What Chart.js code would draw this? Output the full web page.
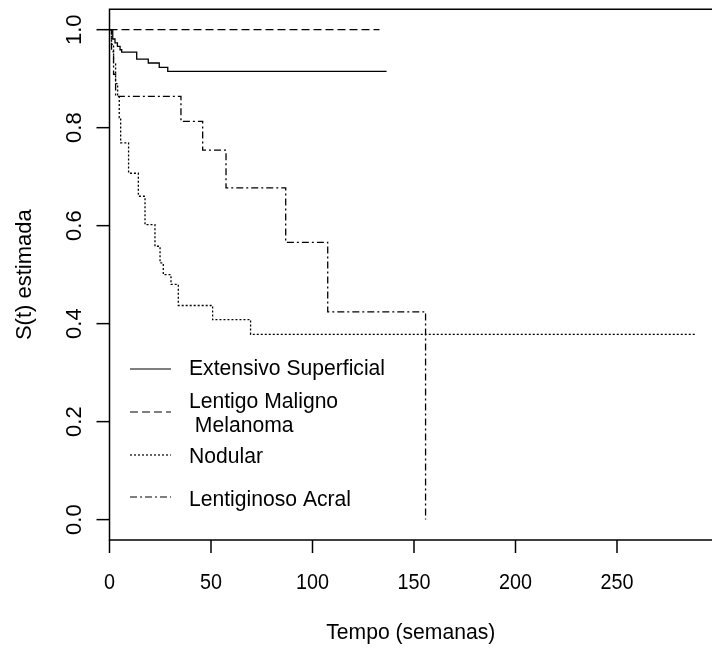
<!DOCTYPE html>
<html>
<head>
<meta charset="utf-8">
<script src="https://cdn.jsdelivr.net/npm/chart.js@4/dist/chart.umd.min.js"></script>
<style>
  html, body { margin: 0; padding: 0; background: #fff; }
  canvas { display: block; }
</style>
</head>
<body>
<canvas id="survChart" width="712" height="648"></canvas>
<script>
// curvas de Kaplan-Meier (tempo em semanas, S(t))
const esTime = [0, 1.6, 2.7, 3.9, 5.2, 6, 13.4, 19.1, 24.5, 28.7, 136.5]
const esSurv = [1, 0.981, 0.973, 0.966, 0.959, 0.954, 0.940, 0.932, 0.923, 0.915, 0.915]

const lmmTime = [0, 133]
const lmmSurv = [1, 1]

const nodTime = [0, 1, 2, 3, 4, 4.8, 5.5, 9.4, 14.2, 17.5, 22.4, 24.9, 26.5, 30.3, 33.9, 50.8, 69.5, 289]
const nodSurv = [1, 0.97, 0.93, 0.89, 0.865, 0.82, 0.769, 0.707, 0.660, 0.602, 0.558, 0.524, 0.500, 0.480, 0.437, 0.408, 0.378, 0.378]

const acTime = [0, 1, 2, 3, 35.2, 45.9, 57.4, 86.8, 107.5, 155.7]
const acSurv = [1, 0.955, 0.909, 0.864, 0.813, 0.754, 0.677, 0.566, 0.424, 0]

const xTicks = [0, 50, 100, 150, 200, 250]
const yTicks = [0, 0.2, 0.4, 0.6, 0.8, 1.0]
const yTickLabels = ["0.0", "0.2", "0.4", "0.6", "0.8", "1.0"]

const seriesNames = ["Extensivo Superficial", "Lentigo Maligno\n Melanoma", "Nodular", "Lentiginoso Acral"]
const dashes = [[], [8, 4], [2, 2], [7, 3, 2, 3]]

const toPoints = (t, s) => t.map((v, i) => ({ x: v, y: s[i] }))

const FONT = '22px "Liberation Sans", Arial, sans-serif'

// eixos, caixa e legenda no estilo do R
const rAxes = {
  id: "rAxes",
  beforeDraw(chart) {
    const c = chart.ctx
    c.save()
    c.fillStyle = "#fff"
    c.fillRect(0, 0, chart.width, chart.height)
    c.restore()
  },
  afterDraw(chart) {
    const c = chart.ctx
    const a = chart.chartArea
    const xs = chart.scales.x
    const ys = chart.scales.y
    c.save()
    c.strokeStyle = "#000"
    c.fillStyle = "#000"
    c.lineWidth = 1.5
    c.setLineDash([])

    // caixa (top, left, bottom)
    c.beginPath()
    c.moveTo(a.right + 2, a.top)
    c.lineTo(a.left, a.top)
    c.lineTo(a.left, a.bottom)
    c.lineTo(a.right + 2, a.bottom)
    c.stroke()

    c.font = FONT
    c.textAlign = "center"
    c.textBaseline = "middle"

    // eixo x
    xTicks.forEach(v => {
      const px = xs.getPixelForValue(v)
      c.beginPath()
      c.moveTo(px, a.bottom)
      c.lineTo(px, a.bottom + 13)
      c.stroke()
      c.save()
      c.translate(px, a.bottom + 43)
      c.scale(0.9, 1)
      c.fillText(String(v), 0, 0)
      c.restore()
    })

    // eixo y
    yTicks.forEach((v, i) => {
      const py = ys.getPixelForValue(v)
      c.beginPath()
      c.moveTo(a.left, py)
      c.lineTo(a.left - 13, py)
      c.stroke()
      c.save()
      c.translate(a.left - 35, py)
      c.rotate(-Math.PI / 2)
      c.fillText(yTickLabels[i], 0, 0)
      c.restore()
    })

    // títulos
    c.save()
    c.translate((a.left + a.right) / 2, a.bottom + 93)
    c.scale(0.96, 1)
    c.fillText("Tempo (semanas)", 0, 0)
    c.restore()

    c.save()
    c.translate(25, (a.top + a.bottom) / 2)
    c.rotate(-Math.PI / 2)
    c.fillText("S(t) estimada", 0, 0)
    c.restore()

    // legenda
    const lineY = [369, 412, 455, 497]
    const textY = [[369], [402, 426], [457], [500]]
    c.textAlign = "left"
    c.lineWidth = 1.2
    seriesNames.forEach((name, i) => {
      c.setLineDash(dashes[i])
      c.beginPath()
      c.moveTo(130, lineY[i])
      c.lineTo(171, lineY[i])
      c.stroke()
      c.setLineDash([])
      name.split("\n").forEach((part, j) => {
        c.save()
        c.translate(189, textY[i][j])
        c.scale(0.96, 1)
        c.fillText(part, 0, 0)
        c.restore()
      })
    })
    c.restore()
  }
}

const ctx = document.getElementById("survChart")

new Chart(ctx, {
  type: "line",
  data: {
    datasets: [
      { label: seriesNames[0], data: toPoints(esTime, esSurv), borderDash: dashes[0] },
      { label: seriesNames[1], data: toPoints(lmmTime, lmmSurv), borderDash: dashes[1] },
      { label: seriesNames[2], data: toPoints(nodTime, nodSurv), borderDash: dashes[2] },
      { label: seriesNames[3], data: toPoints(acTime, acSurv), borderDash: dashes[3] }
    ].map(d => ({
      ...d,
      borderColor: "#000",
      borderWidth: 1.3,
      pointRadius: 0,
      stepped: "before",
      fill: false,
      tension: 0
    }))
  },
  options: {
    responsive: false,
    animation: false,
    devicePixelRatio: 1,
    layout: { padding: { left: 109.5, top: 9.3, right: 0, bottom: 108 } },
    plugins: {
      legend: { display: false },
      tooltip: { enabled: false }
    },
    scales: {
      x: { type: "linear", display: false, min: 0, max: 296.8 },
      y: { type: "linear", display: false, min: -0.0416, max: 1.0416 }
    }
  },
  plugins: [rAxes]
})
</script>
</body>
</html>
